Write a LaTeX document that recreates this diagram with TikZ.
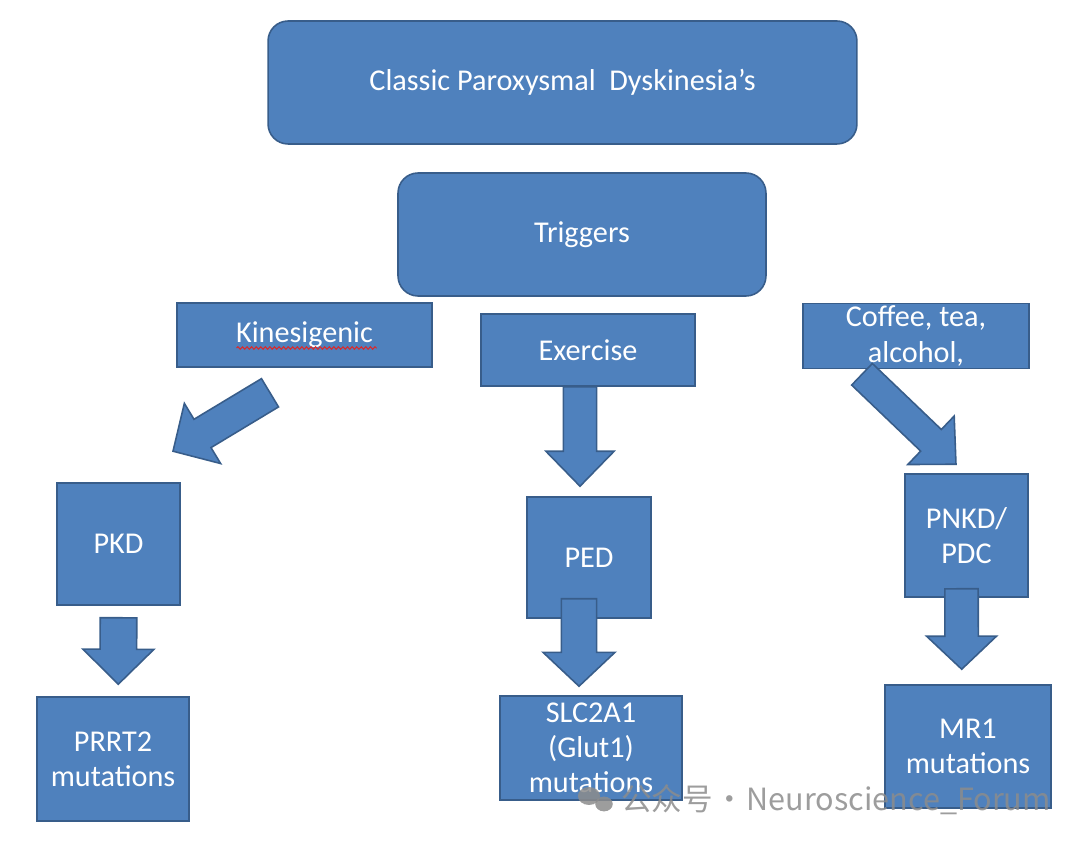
\documentclass[tikz,border=0pt]{standalone}
\usepackage{fontspec}
\setmainfont{Carlito}
\newfontfamily\cjkfont{Noto Sans CJK SC}
\usepackage{tikz}
\usetikzlibrary{
  arrows.meta,
  positioning,
  calc,
  decorations.pathmorphing
}

\definecolor{boxfill}{RGB}{79,129,189}
\definecolor{boxline}{RGB}{56,93,138}
\definecolor{spellred}{RGB}{220,40,40}
\definecolor{wmgray}{RGB}{140,140,140}

% block arrow: tail, tip, half shaft, half head, head length
\newcommand{\blockarrow}[5]{%
  \coordinate (hb) at ($(#2)!#5!(#1)$);
  \filldraw[blockarr] ($(#1)!#3!90:(#2)$) -- ($(hb)!#3!90:(#2)$) -- ($(hb)!#4!90:(#2)$) -- (#2)
    -- ($(hb)!#4!-90:(#2)$) -- ($(hb)!#3!-90:(#2)$) -- ($(#1)!#3!-90:(#2)$) -- cycle;}

\begin{document}
\begin{tikzpicture}[x=0.02cm, y=-0.02cm,
    box/.style={draw=boxline, fill=boxfill, line width=0.9pt, text=white, align=center,
      inner xsep=2pt, inner ysep=-3pt, font=\fontsize{17.2}{20}\selectfont},
    roundbox/.style={box, rounded corners=0.4cm},
    blockarr/.style={draw=boxline, fill=boxfill, line width=0.9pt, line join=miter}]
    \useasboundingbox (0,0) rectangle (1080,841);

    % Titulo e gatilhos
    \node[roundbox, minimum width=11.78cm, minimum height=2.46cm] (title) at (562.5,82.5) {Classic Paroxysmal\ \ Dyskinesia’s};
    \node[roundbox, minimum width=7.36cm, minimum height=2.46cm] (trig) at (582,234.5) {Triggers};

    % Camada: tipos de gatilho
    \node[box, minimum width=5.1cm, minimum height=1.28cm] (kin) at (304.5,335) {Kinesigenic};
    \node[box, minimum width=4.28cm, minimum height=1.44cm] (exer) at (588,350) {Exercise};
    \node[box, minimum width=4.52cm, minimum height=1.3cm] (cof) at (916,336) {Coffee, tea,\\alcohol,};
    \draw[spellred, line width=0.6pt, decorate, decoration={snake, amplitude=0.7pt, segment length=2.6pt}]
      ($(kin.center)+(-68,13)$) -- ($(kin.center)+(72,13)$);

    % Camada: disturbios
    \node[box, minimum width=2.46cm, minimum height=2.44cm] (pkd) at (118.5,544) {PKD};
    \node[box, minimum width=2.48cm, minimum height=2.42cm] (ped) at (589,557.5) {PED};
    \node[box, minimum width=2.46cm, minimum height=2.46cm] (pnkd) at (966.5,535.5) {PNKD/\\PDC};

    % Camada: genes
    \node[box, minimum width=3.04cm, minimum height=2.48cm] (prrt) at (113,759) {PRRT2\\mutations};
    \node[box, minimum width=3.64cm, minimum height=2.08cm] (slc) at (591,748) {SLC2A1\\(Glut1)\\mutations};
    \node[box, minimum width=3.32cm, minimum height=2.46cm] (mr1) at (968,746.5) {MR1\\mutations};

    % Setas largas
    \coordinate (a1s) at ($(kin.south)+(-34.5,25)$);
    \coordinate (a1e) at ($(pkd.north)+(54.5,-31)$);
    \coordinate (a2s) at ($(exer.south)+(-8,0)$);
    \coordinate (a2e) at ($(ped.north)+(-9,-10)$);
    \coordinate (a3s) at ($(cof.south)+(-54,5)$);
    \coordinate (a3e) at ($(pnkd.north)+(-10.5,-9)$);
    \coordinate (a4s) at ($(pkd.south)+(0,12)$);
    \coordinate (a4e) at ($(prrt.north)+(5.3,-12)$);
    \coordinate (a5s) at ($(ped.south)+(-10,-20)$);
    \coordinate (a5e) at ($(slc.north)+(-12,-9)$);
    \coordinate (a6s) at ($(pnkd.south)+(-5,-9)$);
    \coordinate (a6e) at ($(mr1.north)+(-6.3,-15)$);
    \blockarrow{a1s}{a1e}{9.4pt}{20pt}{19.6pt}
    \blockarrow{a2s}{a2e}{9.5pt}{19.4pt}{19.9pt}
    \blockarrow{a3s}{a3e}{8.5pt}{19.1pt}{19.7pt}
    \blockarrow{a4s}{a4e}{10.4pt}{20.2pt}{19.9pt}
    \blockarrow{a5s}{a5e}{10pt}{20.5pt}{19.3pt}
    \blockarrow{a6s}{a6e}{9.5pt}{19.9pt}{18.8pt}

    % Marca d'agua
    \node[font=\cjkfont\fontsize{17.4}{20}\selectfont, text=wmgray, opacity=0.85, anchor=west, inner sep=0pt] (wm) at (621,800) {公众号\hspace{0.05em}·\hspace{0.05em}Neuroscience\_Forum};
    \fill[wmgray, opacity=0.85] ($(wm.west)+(-32,-4)$) ellipse (6.3pt and 5.1pt);
    \fill[wmgray, opacity=0.85] ($(wm.west)+(-17,4)$) ellipse (5pt and 4.2pt);
  \end{tikzpicture}
\end{document}
